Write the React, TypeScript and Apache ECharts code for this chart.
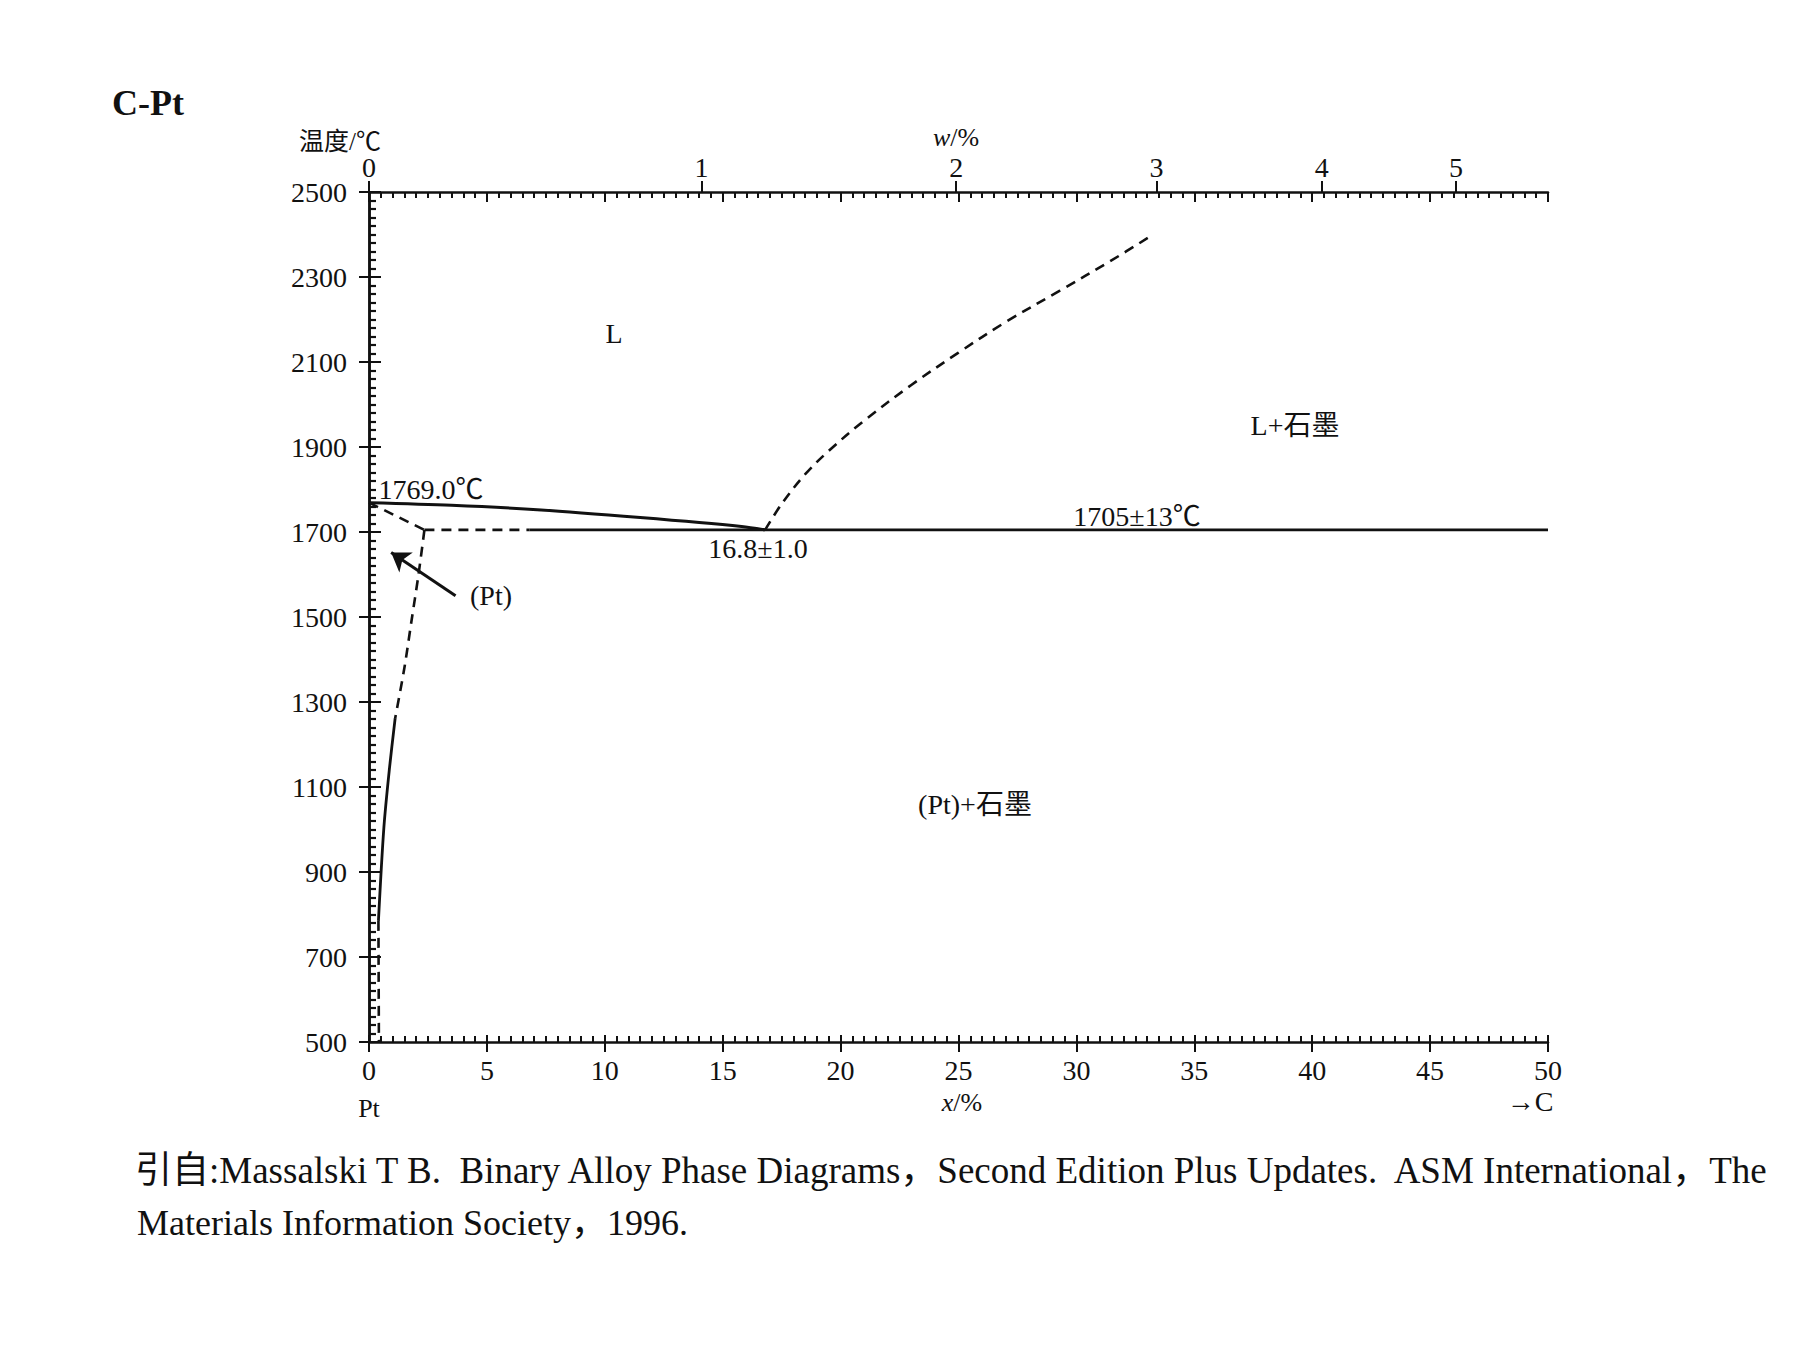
import React, { useEffect, useRef } from "react";
import * as echarts from "echarts";

// ---------- data (x in at.% C, y in °C) ----------
const xAtLabels = [0, 5, 10, 15, 20, 25, 30, 35, 40, 45, 50];
const yTempLabels = [500, 700, 900, 1100, 1300, 1500, 1700, 1900, 2100, 2300, 2500];
const wtLabels = ["0", "1", "2", "3", "4", "5"];
const wtTickAtPos = [0, 14.1, 24.9, 33.4, 40.4, 46.1];

const ptLiquidus = [[0, 1769], [3.5, 1763], [7.3, 1752], [11.5, 1734], [15.8, 1713], [16.8, 1705]];
const cLiquidus = [[16.8, 1705], [17.5, 1766], [18.5, 1836], [19.5, 1891], [21, 1962], [23, 2046], [25, 2122], [27, 2194], [29.3, 2268], [31.4, 2336], [33.2, 2398]];
const ptSolidus = [[0, 1769], [2.35, 1705]];
const eutecticDashed = [[2.35, 1705], [6.8, 1705]];
const eutecticSolid = [[6.8, 1705], [50, 1705]];
const solvusUpper = [[2.35, 1705], [2.1, 1600], [1.8, 1490], [1.5, 1380], [1.11, 1262]];
const solvusMiddle = [[1.11, 1262], [0.87, 1145], [0.63, 1004], [0.4, 785]];
const solvusLower = [[0.4, 785], [0.42, 500]];
const arrowFrom = [3.67, 1550];
const arrowTo = [0.94, 1652];

const FONT = '"Liberation Serif", "Times New Roman", "Noto Sans CJK SC", serif';
const BLACK = "#111";
const DASH = [10, 7];

function lineSeries(data: number[][], dashed: boolean, width: number, smooth: number | boolean = false) {
  return {
    type: "line",
    xAxisIndex: 0,
    yAxisIndex: 0,
    data,
    showSymbol: false,
    symbol: "none",
    smooth,
    silent: true,
    lineStyle: { color: BLACK, width, type: dashed ? DASH : "solid" },
  };
}

function txt(text: string, x: number, y: number, fontSize: number, extra: any = {}) {
  return {
    type: "text",
    x,
    y,
    silent: true,
    style: {
      text,
      fill: BLACK,
      fontSize,
      fontFamily: FONT,
      align: "center",
      verticalAlign: "middle",
      ...extra,
    },
  };
}

export default function App() {
  const ref = useRef<HTMLDivElement>(null);
  useEffect(() => {
    document.body.style.margin = "0";
    const chart = echarts.init(ref.current!, null, { renderer: "svg" });
    const gridRect = { left: 369, top: 192, width: 1179, height: 850 };
    const axisLine = { show: true, lineStyle: { color: BLACK, width: 2.5 } };
    const option: any = {
      animation: false,
      backgroundColor: "#fff",
      grid: [{ ...gridRect }, { ...gridRect }],
      xAxis: [
        {
          gridIndex: 0, type: "value", position: "bottom", min: 0, max: 50, interval: 5,
          axisLine, splitLine: { show: false },
          axisTick: { show: true, inside: false, length: 10, lineStyle: { color: BLACK, width: 2 } },
          axisLabel: { show: true, margin: 14, color: BLACK, fontSize: 28, fontFamily: FONT,
            customValues: xAtLabels, formatter: (v: number) => String(v) },
        },
        {
          gridIndex: 0, type: "value", position: "top", min: 0, max: 50,
          axisLine, splitLine: { show: false },
          axisTick: { show: true, inside: false, length: 11, lineStyle: { color: BLACK, width: 2 },
            customValues: wtTickAtPos },
          axisLabel: {
            show: true, margin: 11, color: BLACK, fontSize: 28, fontFamily: FONT,
            customValues: wtTickAtPos,
            formatter: (v: number) => {
              let best = 0;
              for (let i = 0; i < wtTickAtPos.length; i++) {
                if (Math.abs(wtTickAtPos[i] - v) < Math.abs(wtTickAtPos[best] - v)) best = i;
              }
              return wtLabels[best];
            },
          },
        },
        {
          gridIndex: 1, type: "value", position: "bottom", min: 0, max: 50, interval: 5,
          axisLine: { show: false }, splitLine: { show: false }, axisLabel: { show: false },
          axisTick: { show: true, inside: true, length: 7, lineStyle: { color: BLACK, width: 2 } },
          minorTick: { show: true, splitNumber: 10, length: 6, lineStyle: { color: BLACK, width: 2 } },
        },
        {
          gridIndex: 1, type: "value", position: "top", min: 0, max: 50, interval: 5,
          axisLine: { show: false }, splitLine: { show: false }, axisLabel: { show: false },
          axisTick: { show: true, inside: true, length: 10, lineStyle: { color: BLACK, width: 2 } },
          minorTick: { show: true, splitNumber: 10, length: 6, lineStyle: { color: BLACK, width: 2 } },
        },
      ],
      yAxis: [
        {
          gridIndex: 0, type: "value", position: "left", min: 500, max: 2500, interval: 200,
          axisLine, splitLine: { show: false },
          axisTick: { show: true, inside: false, length: 10, lineStyle: { color: BLACK, width: 2 } },
          axisLabel: { show: true, margin: 22, color: BLACK, fontSize: 28, fontFamily: FONT,
            customValues: yTempLabels, formatter: (v: number) => String(v) },
        },
        {
          gridIndex: 0, type: "value", position: "right", min: 500, max: 2500, interval: 200,
          axisLine, splitLine: { show: false }, axisLabel: { show: false },
          axisTick: { show: true, inside: false, length: 12, lineStyle: { color: BLACK, width: 2 } },
          minorTick: { show: true, splitNumber: 10, length: 7, lineStyle: { color: BLACK, width: 2.2 } },
        },
        {
          gridIndex: 1, type: "value", position: "left", min: 500, max: 2500, interval: 200,
          axisLine: { show: false }, splitLine: { show: false }, axisLabel: { show: false },
          axisTick: { show: true, inside: true, length: 6, lineStyle: { color: BLACK, width: 2 } },
          minorTick: { show: true, splitNumber: 10, length: 6, lineStyle: { color: BLACK, width: 2 } },
        },
      ],
      series: [
        lineSeries(ptLiquidus, false, 3, 0.3),
        lineSeries(cLiquidus, true, 2.6, 0.35),
        lineSeries(ptSolidus, true, 2.6),
        lineSeries(eutecticDashed, true, 2.6),
        lineSeries(eutecticSolid, false, 2.8),
        lineSeries(solvusUpper, true, 2.6, 0.3),
        lineSeries(solvusMiddle, false, 2.8, 0.3),
        {
          ...lineSeries(solvusLower, true, 2.6),
          markLine: {
            silent: true,
            symbol: ["none", "arrow"],
            symbolSize: 18,
            label: { show: false },
            lineStyle: { color: BLACK, width: 3, type: "solid" },
            data: [[{ coord: arrowFrom }, { coord: arrowTo }]],
          },
        },
      ],
      graphic: [
        txt("C-Pt", 148, 103, 36, { fontWeight: "bold" }),
        txt("温度/℃", 340, 141, 25),
        txt("{i|w}/%", 956, 137, 26, { rich: { i: { fontStyle: "italic", fontSize: 26, fontFamily: FONT, fill: BLACK } } }),
        txt("L", 614, 333, 28),
        txt("L+石墨", 1295, 425, 28),
        txt("1769.0℃", 431, 489, 28),
        txt("16.8±1.0", 758, 548, 28),
        txt("1705±13℃", 1137, 516, 28),
        txt("(Pt)", 491, 595, 28),
        txt("(Pt)+石墨", 975, 804, 28),
        txt("Pt", 369, 1108, 26),
        txt("{i|x}/%", 962, 1102, 26, { rich: { i: { fontStyle: "italic", fontSize: 26, fontFamily: FONT, fill: BLACK } } }),
        txt("→C", 1530, 1101, 28),
        txt("引自:Massalski T B.  Binary Alloy Phase Diagrams，Second Edition Plus Updates.  ASM International，The", 135, 1170, 37, { align: "left" }),
        txt("Materials Information Society，1996.", 137, 1223, 36, { align: "left" }),
      ],
    };
    chart.setOption(option);
    return () => chart.dispose();
  }, []);
  return <div ref={ref} style={{ width: 1795, height: 1346 }} />;
}
